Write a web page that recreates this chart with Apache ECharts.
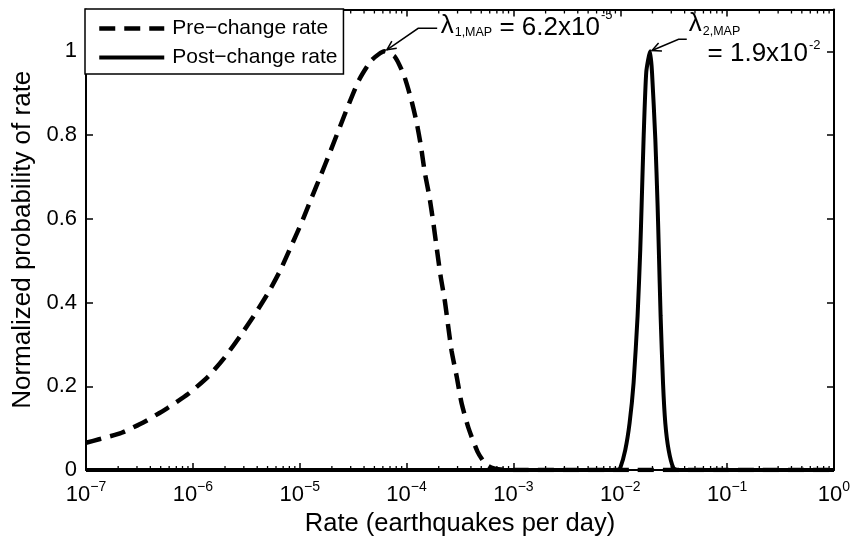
<!DOCTYPE html>
<html><head><meta charset="utf-8">
<script src="https://cdn.jsdelivr.net/npm/echarts@6/dist/echarts.min.js"></script>
<style>html,body{margin:0;padding:0;background:#fff}#c{width:854px;height:544px}</style>
</head><body><div id="c"></div>
<script>
// ---- data ----
const preRate = [1.0e-7, 1.35e-7, 2.16e-7, 3.57e-7, 5.78e-7, 9.08e-7, 1.40e-6, 2.00e-6, 2.77e-6, 3.74e-6, 5.09e-6, 6.55e-6, 8.13e-6, 1.045e-5, 1.30e-5, 1.57e-5, 1.92e-5, 2.34e-5, 2.89e-5, 3.58e-5, 4.71e-5, 6.2e-5, 7.78e-5, 9.44e-5, 1.10e-4, 1.24e-4, 1.36e-4, 1.48e-4, 1.63e-4, 1.77e-4, 1.92e-4, 2.08e-4, 2.28e-4, 2.45e-4, 2.64e-4, 2.94e-4, 3.27e-4, 3.80e-4, 4.61e-4, 5.44e-4, 6.32e-4, 7.59e-4, 1e-3, 1e-2, 1e-1, 1];
const preProb = [0.065, 0.074, 0.089, 0.116, 0.148, 0.182, 0.224, 0.270, 0.320, 0.369, 0.424, 0.476, 0.529, 0.592, 0.652, 0.703, 0.759, 0.815, 0.875, 0.931, 0.979, 1.0, 0.987, 0.943, 0.887, 0.831, 0.775, 0.711, 0.655, 0.595, 0.528, 0.464, 0.404, 0.344, 0.284, 0.224, 0.160, 0.100, 0.044, 0.015, 0.005, 0.001, 0, 0, 0, 0];
const postRate = [1e-7, 9.5e-3, 1.0e-2, 1.114e-2, 1.222e-2, 1.332e-2, 1.452e-2, 1.539e-2, 1.583e-2, 1.652e-2, 1.751e-2, 1.9e-2, 1.98e-2, 2.127e-2, 2.235e-2, 2.293e-2, 2.384e-2, 2.511e-2, 2.638e-2, 2.833e-2, 3.135e-2, 3.42e-2, 1];
const postProb = [0, 0, 0.005, 0.048, 0.112, 0.208, 0.368, 0.528, 0.631, 0.791, 0.951, 1.0, 0.951, 0.791, 0.631, 0.528, 0.368, 0.208, 0.112, 0.048, 0.005, 0, 0];
const seriesNames = ['Pre\u2212change rate', 'Post\u2212change rate'];
const xDecades = [-7, -6, -5, -4, -3, -2, -1, 0];
const yTicks = [0, 0.2, 0.4, 0.6, 0.8, 1];
const yMax = 1.1;
const mapRates = [6.2e-5, 1.9e-2];
const mapValueText = ['6.2x10', '1.9x10'];
const mapExpText = ['-5', '-2'];
const mapSubText = ['1,MAP', '2,MAP'];
const xTitle = 'Rate (earthquakes per day)';
const yTitle = 'Normalized probability of rate';

// ---- minor tick positions on the log axis (2..9 x 10^k) ----
const minorTicks = [];
for (let i = 0; i < xDecades.length - 1; i++) {
  for (let m = 2; m <= 9; m++) minorTicks.push(m * Math.pow(10, xDecades[i]));
}

const FONT = '"Liberation Sans", Arial, Helvetica, sans-serif';
const chart = echarts.init(document.getElementById('c'), null, {renderer: 'canvas'});

function expLabel(v) {
  const e = Math.round(Math.log10(v));
  return '{b|10}{s|' + (e < 0 ? '\u2212' + (-e) : String(e)) + '}';
}

const preDash = [16, 9];
const preWidth = 4.5, postWidth = 4;
const axisLineStyle = {color: '#000', width: 2};
const option = {
  animation: false,
  backgroundColor: '#fff',
  grid: {left: 86, right: 20, top: 9.5, bottom: 74, containLabel: false},
  legend: {
    data: [
      {name: seriesNames[0], itemStyle: {opacity: 0}, lineStyle: {width: preWidth, type: preDash, color: '#000'}},
      {name: seriesNames[1], itemStyle: {opacity: 0}, lineStyle: {width: postWidth, type: 'solid', color: '#000'}}
    ],
    orient: 'vertical',
    left: 85, top: 9,
    padding: [9, 6, 6, 12],
    itemWidth: 65, itemHeight: 20, itemGap: 8,
    backgroundColor: '#fff', borderColor: '#000', borderWidth: 1.5, borderRadius: 0,
    selectedMode: false,
    textStyle: {fontFamily: FONT, fontSize: 21, color: '#000', lineHeight: 20, padding: [0, 0, 0, 3]}
  },
  xAxis: [{
    type: 'log', logBase: 10, min: 1e-7, max: 1,
    position: 'bottom',
    axisLine: {show: true, onZero: false, lineStyle: axisLineStyle},
    axisTick: {show: true, inside: true, length: 7, lineStyle: {color: '#000', width: 1.5}},
    splitLine: {show: false},
    axisLabel: {
      margin: 10, formatter: expLabel,
      rich: {
        b: {fontFamily: FONT, fontSize: 22, color: '#000', lineHeight: 26, verticalAlign: 'bottom'},
        s: {fontFamily: FONT, fontSize: 14, color: '#000', lineHeight: 14, verticalAlign: 'top'}
      }
    },
    name: xTitle, nameLocation: 'middle', nameGap: 40,
    nameTextStyle: {fontFamily: FONT, fontSize: 25.5, color: '#000'}
  }, {
    type: 'log', logBase: 10, min: 1e-7, max: 1,
    position: 'top',
    axisLine: {show: true, onZero: false, lineStyle: axisLineStyle},
    axisTick: {show: true, inside: true, length: 7, lineStyle: {color: '#000', width: 1.5}},
    axisLabel: {show: false},
    splitLine: {show: false}
  }],
  yAxis: [{
    type: 'value', min: yTicks[0], max: yMax, interval: yTicks[1] - yTicks[0],
    position: 'left',
    axisLine: {show: true, onZero: false, lineStyle: axisLineStyle},
    axisTick: {show: true, inside: true, length: 7, lineStyle: {color: '#000', width: 1.5}},
    splitLine: {show: false},
    axisLabel: {
      margin: 9, fontFamily: FONT, fontSize: 22, color: '#000',
      formatter: v => (v > yTicks[yTicks.length - 1] + 1e-9 ? '' : String(Math.round(v * 10) / 10))
    },
    name: yTitle, nameLocation: 'middle', nameGap: 43, nameRotate: 90,
    nameTextStyle: {fontFamily: FONT, fontSize: 26, color: '#000'}
  }, {
    type: 'value', min: yTicks[0], max: yMax, interval: yTicks[1] - yTicks[0],
    position: 'right',
    axisLine: {show: true, onZero: false, lineStyle: axisLineStyle},
    axisTick: {show: true, inside: true, length: 7, lineStyle: {color: '#000', width: 1.5}},
    splitLine: {show: false},
    axisLabel: {show: false}
  }],
  series: [{
    name: seriesNames[0], type: 'line',
    data: preRate.map((r, i) => [r, preProb[i]]),
    symbol: 'none', showSymbol: false, smooth: 0.2,
    lineStyle: {color: '#000', width: preWidth, type: preDash},
    itemStyle: {color: '#000'}, z: 2
  }, {
    name: seriesNames[1], type: 'line',
    data: postRate.map((r, i) => [r, postProb[i]]),
    symbol: 'none', showSymbol: false, smooth: 0.2,
    lineStyle: {color: '#000', width: postWidth, type: 'solid'},
    itemStyle: {color: '#000'}, z: 3
  }, {
    name: 'minorTicks', type: 'custom', silent: true, clip: false, z: 1,
    data: minorTicks.map(v => [v, 0]),
    renderItem: function (params, api) {
      const v = api.value(0);
      const pb = api.coord([v, 0]);
      const pt = api.coord([v, yMax]);
      return {type: 'group', children: [
        {type: 'line', shape: {x1: pb[0], y1: pb[1], x2: pb[0], y2: pb[1] - 4}, style: {stroke: '#000', lineWidth: 1.3}},
        {type: 'line', shape: {x1: pt[0], y1: pt[1], x2: pt[0], y2: pt[1] + 4}, style: {stroke: '#000', lineWidth: 1.3}}
      ]};
    }
  }]
};
chart.setOption(option);

// ---- annotations anchored on the MAP peaks ----
const mctx = document.createElement('canvas').getContext('2d');
function tw(t, fs) { mctx.font = fs + 'px "Liberation Sans"'; return mctx.measureText(t).width; }
function txt(t, x, y, fs) {
  return {type: 'text', x: x, y: y, z: 100,
    style: {text: t, font: fs + 'px ' + FONT, fill: '#000', align: 'left', verticalAlign: 'middle'}};
}
function arrow(tip, pts) {
  const els = [];
  const all = [tip].concat(pts);
  els.push({type: 'polyline', z: 100, shape: {points: all}, style: {stroke: '#000', lineWidth: 1.5, fill: null}});
  const dx = pts[0][0] - tip[0], dy = pts[0][1] - tip[1];
  const L = Math.hypot(dx, dy), ux = dx / L, uy = dy / L, h = 10, a = 0.45;
  const r1 = [tip[0] + h * (ux * Math.cos(a) - uy * Math.sin(a)), tip[1] + h * (ux * Math.sin(a) + uy * Math.cos(a))];
  const r2 = [tip[0] + h * (ux * Math.cos(-a) - uy * Math.sin(-a)), tip[1] + h * (ux * Math.sin(-a) + uy * Math.cos(-a))];
  els.push({type: 'polyline', z: 100, shape: {points: [r1, tip, r2]}, style: {stroke: '#000', lineWidth: 1.5, fill: null}});
  return els;
}
function build() {
  const g = [];
  const fsM = 26, fsS = 12.5, fsE = 13;
  // annotation 1
  const p1 = chart.convertToPixel({xAxisIndex: 0, yAxisIndex: 0}, [mapRates[0], 1]);
  const t1 = [p1[0] + 2.5, p1[1] - 1.5];
  g.push(...arrow(t1, [[p1[0] + 33.8, p1[1] - 23], [p1[0] + 52.8, p1[1] - 23]]));
  let x = p1[0] + 56.3, cy = p1[1] - 23.3;
  g.push(txt('\u03bb', x, cy - 2.5, fsM)); x += tw('\u03bb', fsM) + 1;
  g.push(txt(mapSubText[0], x, cy + 4.5, fsS)); x += tw(mapSubText[0], fsS);
  const s1 = ' = ' + mapValueText[0];
  g.push(txt(s1, x, cy, fsM)); x += tw(s1, fsM) + 1;
  g.push(txt(mapExpText[0], x, cy - 12.5, fsE));
  // annotation 2
  const p2 = chart.convertToPixel({xAxisIndex: 0, yAxisIndex: 0}, [mapRates[1], 1]);
  const t2 = [p2[0] + 1.9, p2[1] - 0.8];
  g.push(...arrow(t2, [[p2[0] + 28.5, p2[1] - 12], [p2[0] + 36.7, p2[1] - 12]]));
  x = p2[0] + 38.7; cy = p2[1] - 27;
  g.push(txt('\u03bb', x, cy - 1, fsM)); x += tw('\u03bb', fsM) + 1;
  g.push(txt(mapSubText[1], x, cy + 7, fsS));
  x = p2[0] + 57.5; cy = p2[1] + 2;
  const s2 = '= ' + mapValueText[1];
  g.push(txt(s2, x, cy, fsM)); x += tw(s2, fsM) + 1;
  g.push(txt(mapExpText[1], x, cy - 8, fsE));
  chart.setOption({graphic: g});
}
build();
</script>
</body></html>
